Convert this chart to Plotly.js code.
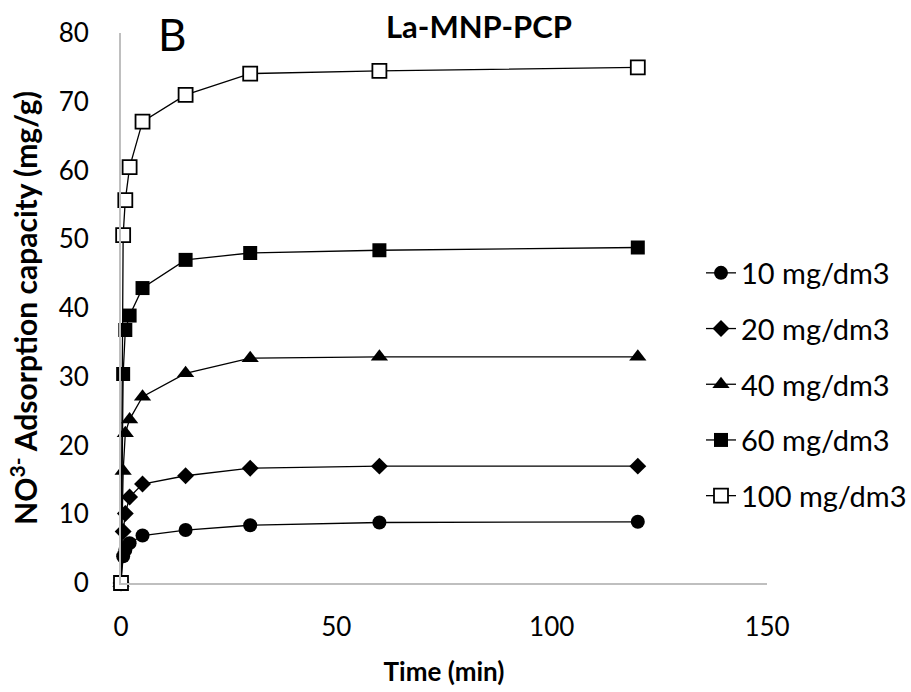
<!DOCTYPE html>
<html>
<head>
<meta charset="utf-8">
<script src="https://cdn.plot.ly/plotly-3.0.1.min.js"></script>
<style>html,body{margin:0;padding:0;background:#fff;}#chart{width:911px;height:692px;}</style>
</head>
<body>
<div id="chart"></div>
<script>
var time = [0, 0.5, 1, 2, 5, 15, 30, 60, 120];
var c10  = [0, 3.9, 4.8, 5.8, 6.9, 7.7, 8.4, 8.8, 8.9];
var c20  = [0, 7.5, 10.1, 12.5, 14.4, 15.6, 16.7, 17.0, 17.0];
var c40  = [0, 16.3, 21.8, 23.8, 27.1, 30.5, 32.7, 32.9, 32.9];
var c60  = [0, 30.4, 36.8, 38.9, 42.9, 47.0, 48.0, 48.4, 48.8];
var c100 = [0, 50.6, 55.7, 60.5, 67.1, 71.0, 74.1, 74.5, 75.0];
var seriesNames = ["10 mg/dm3", "20 mg/dm3", "40 mg/dm3", "60 mg/dm3", "100 mg/dm3"];
var seriesData = [c10, c20, c40, c60, c100];
var symbols = ["circle", "diamond", "triangle-up", "square", "square"];
var fills = ["black", "black", "black", "black", "white"];
var sizes = [14, 13, 15, 14, 14];

var FONT = "Lato, 'Open Sans', sans-serif";
var traces = seriesData.map(function (d, i) {
  return {
    x: time, y: d, name: seriesNames[i], type: "scatter", mode: "lines+markers",
    legendgroup: "g" + i,
    cliponaxis: false,
    line: {color: "black", width: 1.3},
    marker: {symbol: symbols[i], size: sizes[i], color: fills[i],
             line: {color: "black", width: i === 4 ? 1.8 : 0}}
  };
});

var layout = {
  width: 911, height: 692,
  margin: {l: 121, r: 144, t: 33, b: 109, autoexpand: false},
  paper_bgcolor: "white", plot_bgcolor: "white",
  font: {family: FONT, color: "black", size: 26},
  showlegend: true,
  legend: {x: (701 - 121) / 646, y: 0.61, xanchor: "left", yanchor: "top",
           font: {family: FONT, size: 29, color: "black"},
           traceorder: "grouped", tracegroupgap: 15, bgcolor: "rgba(0,0,0,0)"},
  xaxis: {range: [0, 150], tickvals: [0, 50, 100, 150], showline: true,
          linecolor: "#bfbfbf", linewidth: 2, showgrid: false, zeroline: false,
          ticks: "", ticklabelstandoff: 20, tickfont: {family: FONT, size: 26},
          title: {text: "<b>Time (min)</b>", font: {family: FONT, size: 26}, standoff: 22}},
  yaxis: {range: [0, 80], tickvals: [0, 10, 20, 30, 40, 50, 60, 70, 80], showline: true,
          linecolor: "#bfbfbf", linewidth: 2, showgrid: false, zeroline: false,
          ticks: "", ticklabelstandoff: 25, tickfont: {family: FONT, size: 26},
          title: {text: "<b>NO<sup>3-</sup> Adsorption capacity (mg/g)</b>", font: {family: FONT, size: 30}, standoff: 12}},
  annotations: [
    {text: "B", xref: "paper", yref: "paper", x: (172 - 121) / 646, y: 1.0, xanchor: "center", yanchor: "middle",
     yshift: -1, showarrow: false, font: {family: FONT, size: 44, color: "black"}},
    {text: "<b>La-MNP-PCP</b>", xref: "paper", yref: "paper", x: (479 - 121) / 646, y: 1.0, xanchor: "center", yanchor: "middle",
     yshift: 7, showarrow: false, font: {family: FONT, size: 31, color: "black"}}
  ]
};
Plotly.newPlot("chart", traces, layout, {displayModeBar: false, staticPlot: true});
</script>
</body>
</html>
